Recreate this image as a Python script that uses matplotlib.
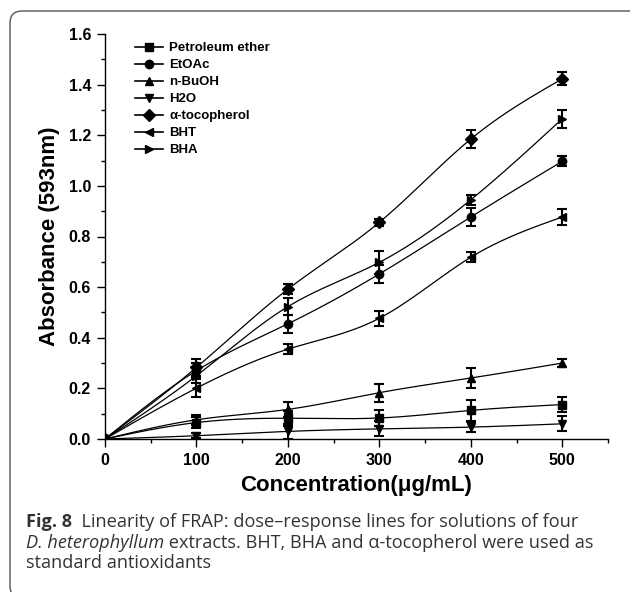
import matplotlib
matplotlib.use('Agg')
import matplotlib.pyplot as plt
from matplotlib.patches import FancyBboxPatch
from matplotlib.transforms import IdentityTransform
import numpy as np

matplotlib.rcParams['font.family'] = 'Liberation Sans'

# ---- data ----
conc = [0, 100, 200, 300, 400, 500]

pet_ether = [0, 0.065, 0.082, 0.083, 0.113, 0.136]
pet_ether_err = [0, 0.02, 0.03, 0.03, 0.04, 0.03]
etoac = [0, 0.27, 0.455, 0.652, 0.877, 1.097]
etoac_err = [0, 0.03, 0.035, 0.035, 0.035, 0.02]
nbuoh = [0, 0.076, 0.117, 0.183, 0.241, 0.30]
nbuoh_err = [0, 0.02, 0.03, 0.035, 0.04, 0.015]
h2o = [0, 0.013, 0.03, 0.04, 0.047, 0.06]
h2o_err = [0, 0.01, 0.03, 0.03, 0.02, 0.03]
tocopherol = [0, 0.283, 0.592, 0.856, 1.185, 1.423]
tocopherol_err = [0, 0.035, 0.02, 0.015, 0.035, 0.025]
bht = [0, 0.201, 0.355, 0.477, 0.718, 0.877]
bht_err = [0, 0.035, 0.02, 0.03, 0.02, 0.03]
bha = [0, 0.25, 0.523, 0.698, 0.945, 1.265]
bha_err = [0, 0.03, 0.035, 0.045, 0.02, 0.035]

labels = ['Petroleum ether', 'EtOAc', 'n-BuOH', 'H2O', 'α-tocopherol', 'BHT', 'BHA']
markers = ['s', 'o', '^', 'v', 'D', '<', '>']
series = [(pet_ether, pet_ether_err), (etoac, etoac_err), (nbuoh, nbuoh_err),
          (h2o, h2o_err), (tocopherol, tocopherol_err), (bht, bht_err), (bha, bha_err)]


def spline(x, y, n=200):
    # natural cubic spline, only used to draw the smooth connecting line
    x = np.asarray(x, float); y = np.asarray(y, float)
    k = len(x); h = np.diff(x)
    A = np.zeros((k, k)); r = np.zeros(k)
    A[0, 0] = A[-1, -1] = 1
    for i in range(1, k - 1):
        A[i, i - 1] = h[i - 1]; A[i, i] = 2 * (h[i - 1] + h[i]); A[i, i + 1] = h[i]
        r[i] = 6 * ((y[i + 1] - y[i]) / h[i] - (y[i] - y[i - 1]) / h[i - 1])
    m = np.linalg.solve(A, r)
    xs = np.linspace(x[0], x[-1], n)
    idx = np.clip(np.searchsorted(x, xs) - 1, 0, k - 2)
    t = xs - x[idx]; hi = h[idx]
    a = y[idx]; b = (y[idx + 1] - y[idx]) / hi - hi * (2 * m[idx] + m[idx + 1]) / 6
    ys = a + b * t + m[idx] / 2 * t ** 2 + (m[idx + 1] - m[idx]) / (6 * hi) * t ** 3
    return xs, ys


fig = plt.figure(figsize=(6.3, 5.92), dpi=100)
ax = fig.add_axes([105 / 630, 1 - 439 / 592, 503 / 630, 405 / 592])

for (vals, err), mk, lab in zip(series, markers, labels):
    xs, ys = spline(conc, vals)
    ax.plot(xs, ys, color='black', lw=0.9)
    ax.errorbar(conc, vals, yerr=err, fmt='none', ecolor='black',
                elinewidth=1.5, capsize=3.5, capthick=1.5)
    ax.plot(conc, vals, marker=mk, ls='none', color='black', ms=6)
    ax.plot([], [], marker=mk, color='black', ms=6, lw=1.2, label=lab)

ax.set_xlim(0, 550)
ax.set_ylim(0, 1.6)
ax.set_xticks([0, 100, 200, 300, 400, 500])
ax.set_xticks(np.arange(50, 551, 100), minor=True)
ax.set_yticks(np.arange(0, 1.61, 0.2))
ax.set_yticks(np.arange(0.1, 1.6, 0.2), minor=True)
ax.yaxis.set_major_formatter(matplotlib.ticker.FormatStrFormatter('%.1f'))
ax.spines['top'].set_visible(False)
ax.spines['right'].set_visible(False)
for s in ['left', 'bottom']:
    ax.spines[s].set_linewidth(1.0)
ax.tick_params(which='major', direction='out', length=6, width=1.0, labelsize=11.5, pad=4)
ax.tick_params(which='minor', direction='out', length=3, width=1.0)
for lbl in ax.get_xticklabels() + ax.get_yticklabels():
    lbl.set_fontweight('bold')

ax.set_xlabel('Concentration(μg/mL)', fontsize=16, fontweight='bold', labelpad=5)
ax.set_ylabel('Absorbance (593nm)', fontsize=16, fontweight='bold', labelpad=6)

leg = ax.legend(loc='upper left', bbox_to_anchor=(30 / 503, 1 - 8 / 405), frameon=False,
                borderpad=0, borderaxespad=0, handlelength=2.1, handletextpad=0.5,
                labelspacing=0.36, prop={'weight': 'bold', 'size': 9.5})

# frame around figure + caption (right and bottom edges run off the image)
frame = FancyBboxPatch((10, -6), 640, 592 - 11 + 6, boxstyle='round,pad=0,rounding_size=12',
                       transform=IdentityTransform(), facecolor='none',
                       edgecolor='#555555', lw=1.0)
fig.patches.append(frame)

renderer = fig.canvas.get_renderer()
cap_font = 'Open Sans'
cap_size = 13.1


def caption_line(parts, y):
    x = 26 / 630
    for txt, kw in parts:
        t = fig.text(x, y, txt, fontsize=cap_size, family=cap_font, color='#333333',
                     va='baseline', **kw)
        bb = t.get_window_extent(renderer)
        x += bb.width / 630


caption_line([('Fig. 8', {'fontweight': 'bold'}),
              ('  Linearity of FRAP: dose–response lines for solutions of four', {})],
             1 - 527 / 592)
caption_line([('D. heterophyllum', {'style': 'italic'}),
              (' extracts. BHT, BHA and α-tocopherol were used as', {})],
             1 - 548 / 592)
caption_line([('standard antioxidants', {})], 1 - 568 / 592)

plt.savefig('out.png', dpi=100)
